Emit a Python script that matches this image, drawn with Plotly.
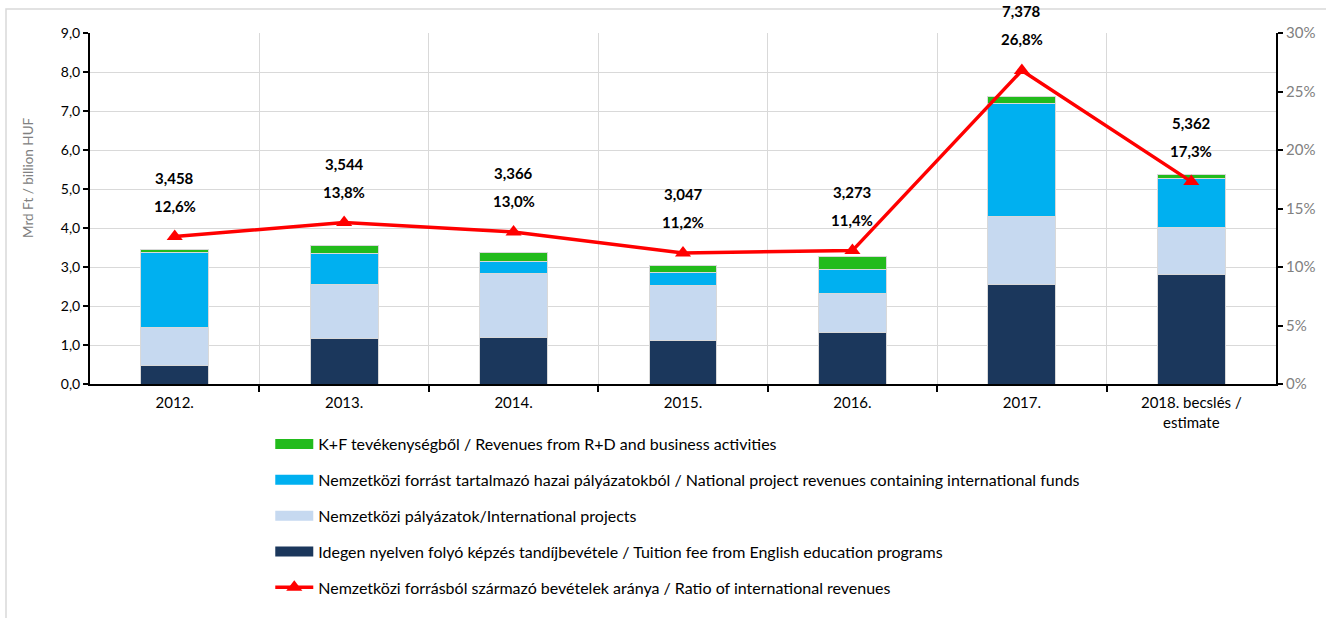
import plotly.graph_objects as go

categories = ["2012.", "2013.", "2014.", "2015.", "2016.", "2017.", "2018. becslés /<br>estimate"]
tuition = [0.48, 1.17, 1.20, 1.11, 1.31, 2.55, 2.82]
intl_projects = [0.98, 1.38, 1.63, 1.41, 1.02, 1.74, 1.20]
national_intl = [1.90, 0.79, 0.30, 0.33, 0.61, 2.91, 1.24]
rd_business = [0.098, 0.204, 0.236, 0.197, 0.333, 0.178, 0.102]
totals = [3.458, 3.544, 3.366, 3.047, 3.273, 7.378, 5.362]
ratio_pct = [12.6, 13.8, 13.0, 11.2, 11.4, 26.8, 17.3]

names = {
    "rd": "K+F tevékenységből / Revenues from R+D and business activities",
    "nat": "Nemzetközi forrást tartalmazó hazai pályázatokból / National project revenues containing international funds",
    "intl": "Nemzetközi pályázatok/International projects",
    "tuition": "Idegen nyelven folyó képzés tandíjbevétele / Tuition fee from English education programs",
    "ratio": "Nemzetközi forrásból származó bevételek aránya / Ratio of international revenues",
}
y_title = "Mrd Ft / billion HUF"

FONT = "Lato, 'Open Sans', sans-serif"
edge = dict(color="#d9d9d9", width=1)
xpos = list(range(len(categories)))
bounds = [i + 0.5 for i in xpos[:-1]]

series = [
    ("tuition", tuition, "#1b375c", 4),
    ("intl", intl_projects, "#c6d9f0", 3),
    ("nat", national_intl, "#00b0f0", 2),
    ("rd", rd_business, "#22bb1c", 1),
]

fig = go.Figure()
for key, vals, color, rank in series:
    fig.add_trace(go.Bar(x=xpos, y=vals, name=names[key], marker=dict(color=color, line=edge),
                         width=0.4, showlegend=False, legendgroup=key))
    # legend entry drawn as a wide swatch
    fig.add_trace(go.Scatter(x=[None], y=[None], mode="lines", name=names[key],
                             line=dict(color=color, width=10), legendrank=rank, legendgroup=key))

fig.add_trace(go.Scatter(x=xpos, y=[v / 100 for v in ratio_pct], name=names["ratio"], yaxis="y2",
                         mode="lines+markers", line=dict(color="#ff0000", width=3.5),
                         marker=dict(symbol="triangle-up", size=14, color="#ff0000"),
                         legendrank=5, legendgroup="ratio"))

for i, (t, r) in enumerate(zip(totals, ratio_pct)):
    fig.add_annotation(x=i, y=r / 100, xref="x", yref="y2", text=f"<b>{r:.1f}%</b>".replace(".", ","),
                       showarrow=False, yshift=31, font=dict(size=15, color="black", family=FONT))
    fig.add_annotation(x=i, y=r / 100, xref="x", yref="y2", text=f"<b>{t:.3f}</b>".replace(".", ","),
                       showarrow=False, yshift=59, font=dict(size=15, color="black", family=FONT))

# y-axis title (placed like the original, slightly above the plot's middle)
fig.add_annotation(text=y_title, xref="paper", yref="paper", x=(28 - 90) / 1186, y=(384 - 178) / 351,
                   textangle=-90, showarrow=False, xanchor="center", yanchor="middle",
                   font=dict(size=13.5, color="#808080", family=FONT))

fig.update_layout(
    width=1326, height=618,
    margin=dict(l=90, r=50, t=33, b=234),
    paper_bgcolor="white", plot_bgcolor="white",
    barmode="stack",
    separators=", ",
    font=dict(family=FONT, size=14, color="black"),
    xaxis=dict(range=[-0.5, len(categories) - 0.5], tickvals=xpos, ticktext=categories,
               showgrid=False, ticks="", zeroline=False, ticklabelstandoff=4,
               minor=dict(tickvals=bounds, showgrid=True, gridcolor="#d9d9d9", gridwidth=1,
                          ticks="outside", ticklen=6, tickcolor="black", tickwidth=2),
               showline=True, linecolor="black", linewidth=2, tickfont=dict(size=15, color="black")),
    yaxis=dict(range=[0, 9], dtick=1, tickformat=".1f", showgrid=True, gridcolor="#d9d9d9", gridwidth=1,
               ticks="outside", ticklen=5, tickcolor="black", tickwidth=2,
               showline=True, linecolor="black", linewidth=2, zeroline=False,
               tickfont=dict(size=14, color="black")),
    yaxis2=dict(range=[0, 0.30], dtick=0.05, tickformat=".0%", overlaying="y", side="right", showgrid=False,
                ticks="outside", ticklen=5, tickcolor="black", tickwidth=2,
                showline=True, linecolor="black", linewidth=2, zeroline=False,
                tickfont=dict(size=15, color="#808080")),
    legend=dict(x=0.152, xanchor="left", y=-0.123, yanchor="top", orientation="v",
                font=dict(size=16, color="black"), tracegroupgap=12, itemwidth=38,
                bgcolor="rgba(0,0,0,0)"),
    showlegend=True,
)

fig.add_shape(type="rect", xref="paper", yref="paper",
              x0=(6 - 90) / 1186, x1=(1340 - 90) / 1186,
              y0=-(640 - 384) / 351, y1=1 + (33 - 9) / 351,
              line=dict(color="#d9d9d9", width=1.5), fillcolor="rgba(0,0,0,0)", layer="below")

fig.write_html("out.html", config={"displayModeBar": False},
               post_script="document.body.style.margin='0';")
